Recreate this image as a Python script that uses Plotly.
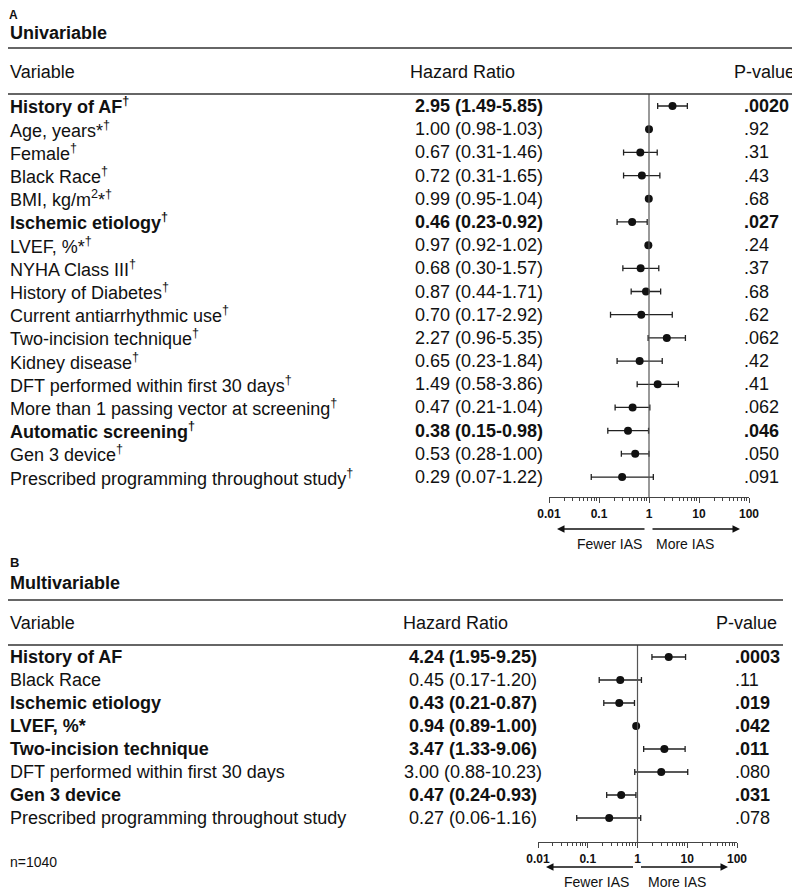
import numpy as np
import plotly.graph_objects as go

# ---- panel A: univariable ----
uni_vars = ["History of AF<sup>†</sup>", "Age, years*<sup>†</sup>", "Female<sup>†</sup>",
            "Black Race<sup>†</sup>", "BMI, kg/m<sup>2</sup>*<sup>†</sup>", "Ischemic etiology<sup>†</sup>",
            "LVEF, %*<sup>†</sup>", "NYHA Class III<sup>†</sup>", "History of Diabetes<sup>†</sup>",
            "Current antiarrhythmic use<sup>†</sup>", "Two-incision technique<sup>†</sup>",
            "Kidney disease<sup>†</sup>", "DFT performed within first 30 days<sup>†</sup>",
            "More than 1 passing vector at screening<sup>†</sup>", "Automatic screening<sup>†</sup>",
            "Gen 3 device<sup>†</sup>", "Prescribed programming throughout study<sup>†</sup>"]
uni_hr = [2.95, 1.00, 0.67, 0.72, 0.99, 0.46, 0.97, 0.68, 0.87, 0.70, 2.27, 0.65, 1.49, 0.47, 0.38, 0.53, 0.29]
uni_lo = [1.49, 0.98, 0.31, 0.31, 0.95, 0.23, 0.92, 0.30, 0.44, 0.17, 0.96, 0.23, 0.58, 0.21, 0.15, 0.28, 0.07]
uni_hi = [5.85, 1.03, 1.46, 1.65, 1.04, 0.92, 1.02, 1.57, 1.71, 2.92, 5.35, 1.84, 3.86, 1.04, 0.98, 1.00, 1.22]
uni_p = [".0020", ".92", ".31", ".43", ".68", ".027", ".24", ".37", ".68", ".62", ".062", ".42", ".41",
         ".062", ".046", ".050", ".091"]
uni_bold = [1, 0, 0, 0, 0, 1, 0, 0, 0, 0, 0, 0, 0, 0, 1, 0, 0]

# ---- panel B: multivariable ----
multi_vars = ["History of AF", "Black Race", "Ischemic etiology", "LVEF, %*", "Two-incision technique",
              "DFT performed within first 30 days", "Gen 3 device", "Prescribed programming throughout study"]
multi_hr = [4.24, 0.45, 0.43, 0.94, 3.47, 3.00, 0.47, 0.27]
multi_lo = [1.95, 0.17, 0.21, 0.89, 1.33, 0.88, 0.24, 0.06]
multi_hi = [9.25, 1.20, 0.87, 1.00, 9.06, 10.23, 0.93, 1.16]
multi_p = [".0003", ".11", ".019", ".042", ".011", ".080", ".031", ".078"]
multi_bold = [1, 0, 1, 1, 1, 0, 1, 0]

axis_vals = [0.01, 0.1, 1, 10, 100]
axis_text = ["0.01", "0.1", "1", "10", "100"]

W, H = 800, 889
OX, OY = 8, 8  # the page puts the figure 8px in from the top-left corner
FONT = "Liberation Sans, Arial, sans-serif"
INK = "#111111"


def px(x):
    return max(x - OX, 0) / W


def py(y):
    return 1 - (y - OY) / H


def bold(s, on):
    return "<b>%s</b>" % s if on else s


fig = go.Figure()
annotations = []
shapes = []

# pixel layout of each panel (page coordinates)
panels = [
    dict(name="A", title="Univariable", tit_y=33, rule1=48, head=72, rule2=94, rule_end=800,
         row0=106, step=23.19, axis_y=497, x0=549, x1=749, hr_x=479, hr_head=408, p_x=742, p_head=797,
         arrow_y=529, lab_y=544, fewer=609, more=685,
         vars=uni_vars, hr=uni_hr, lo=uni_lo, hi=uni_hi, p=uni_p, b=uni_bold, xa="x", yax="y"),
    dict(name="B", title="Multivariable", tit_y=583, rule1=600, head=623, rule2=645, rule_end=783,
         row0=657, step=23.0, axis_y=842, x0=538, x1=737, hr_x=473, hr_head=401, p_x=733, p_head=779,
         arrow_y=867, lab_y=882, fewer=596, more=677,
         vars=multi_vars, hr=multi_hr, lo=multi_lo, hi=multi_hi, p=multi_p, b=multi_bold, xa="x2", yax="y2"),
]

for k, P in enumerate(panels):
    hr = np.array(P["hr"])
    lo = np.array(P["lo"])
    hi = np.array(P["hi"])
    rows = np.arange(len(hr))

    fig.add_trace(go.Scatter(
        x=hr, y=rows, mode="markers", xaxis=P["xa"], yaxis=P["yax"],
        marker=dict(size=8, color=INK),
        error_x=dict(type="data", symmetric=False, array=hi - hr, arrayminus=hr - lo,
                     color="#222222", thickness=1.3, width=3),
        showlegend=False, hoverinfo="skip"))

    suffix = "" if k == 0 else "2"
    y_lo = (P["axis_y"] - P["row0"]) / P["step"]
    y_hi = (P["rule2"] - P["row0"]) / P["step"]
    fig.layout["xaxis" + suffix] = dict(
        type="log", range=[-2, 2], domain=[px(P["x0"]), px(P["x1"])], anchor="y" + suffix,
        showline=True, linecolor="#444444", linewidth=1.2, ticks="outside", ticklen=5,
        tickcolor="#444444", tickwidth=1.2, tickvals=axis_vals, ticktext=axis_text,
        tickfont=dict(family=FONT, size=12, color=INK, weight="bold"),
        minor=dict(ticks="outside", ticklen=3, tickcolor="#444444", tickwidth=1,
                   tickvals=[m * 10.0 ** e for e in range(-2, 2) for m in range(2, 10)]),
        showgrid=False, zeroline=False, fixedrange=True, automargin=False)
    fig.layout["yaxis" + suffix] = dict(
        domain=[py(P["axis_y"]), py(P["rule2"])], range=[y_lo, y_hi], anchor="x" + suffix,
        visible=False, fixedrange=True, automargin=False)

    # reference line at HR = 1
    shapes.append(dict(type="line", xref=P["xa"], yref=P["yax"] + " domain", x0=1, x1=1, y0=0, y1=1,
                       line=dict(color="#555555", width=1.2)))

    # horizontal rules
    for ry in (P["rule1"], P["rule2"]):
        shapes.append(dict(type="line", xref="paper", yref="paper", x0=0, x1=px(P["rule_end"]),
                           y0=py(ry), y1=py(ry), line=dict(color="#333333", width=1.5)))

    def txt(x, y, s, size=18, xanchor="left", yref="paper", yanchor="middle", **kw):
        annotations.append(dict(x=x, y=y, xref="paper", yref=yref, text=s, showarrow=False,
                                xanchor=xanchor, yanchor=yanchor,
                                font=dict(family=FONT, size=size, color=INK), **kw))

    if k == 0:
        # the "A" sits in the page margin, so pin it to the top edge with a tight box
        txt(0, 1, "<b>A</b>", size=12, yanchor="top", height=11, borderpad=0, valign="middle")
    else:
        txt(px(4), py(562), "<b>B</b>", size=13)
    txt(px(4), py(P["tit_y"]), "<b>%s</b>" % P["title"], size=18)
    txt(px(4), py(P["head"]), "Variable")
    txt(px(P["hr_head"]), py(P["head"]), "Hazard Ratio")
    txt(px(P["p_head"]), py(P["head"]), "P-value", xanchor="right")

    for i in rows:
        b = P["b"][i]
        txt(px(4), i, bold(P["vars"][i], b), yref=P["yax"])
        txt(px(P["hr_x"]), i, bold("%.2f (%.2f-%.2f)" % (hr[i], lo[i], hi[i]), b),
            xanchor="center", yref=P["yax"])
        txt(px(P["p_x"]), i, bold(P["p"][i], b), yref=P["yax"])

    # direction arrows
    mid = (P["x0"] + P["x1"]) / 2
    for head, tail in ((P["x0"] + 8, mid - 3), (P["x1"] - 9, mid + 2)):
        annotations.append(dict(x=px(head), y=py(P["arrow_y"]), xref="paper", yref="paper",
                                ax=tail - head, ay=0, axref="pixel", ayref="pixel", text="",
                                showarrow=True, arrowhead=2, arrowsize=1, arrowwidth=1.5,
                                arrowcolor=INK))
    txt(px(P["fewer"]), py(P["lab_y"]), "Fewer IAS", size=14, xanchor="center")
    txt(px(P["more"]), py(P["lab_y"]), "More IAS", size=14, xanchor="center")

annotations.append(dict(x=px(4), y=py(862), xref="paper", yref="paper", text="n=1040", showarrow=False,
                        xanchor="left", yanchor="middle", font=dict(family=FONT, size=14, color=INK)))

fig.update_layout(
    width=W, height=H, margin=dict(l=0, r=0, t=0, b=0, pad=0, autoexpand=False),
    paper_bgcolor="white", plot_bgcolor="white",
    annotations=annotations, shapes=shapes,
    font=dict(family=FONT, color=INK),
)

fig.write_html("out.html")
